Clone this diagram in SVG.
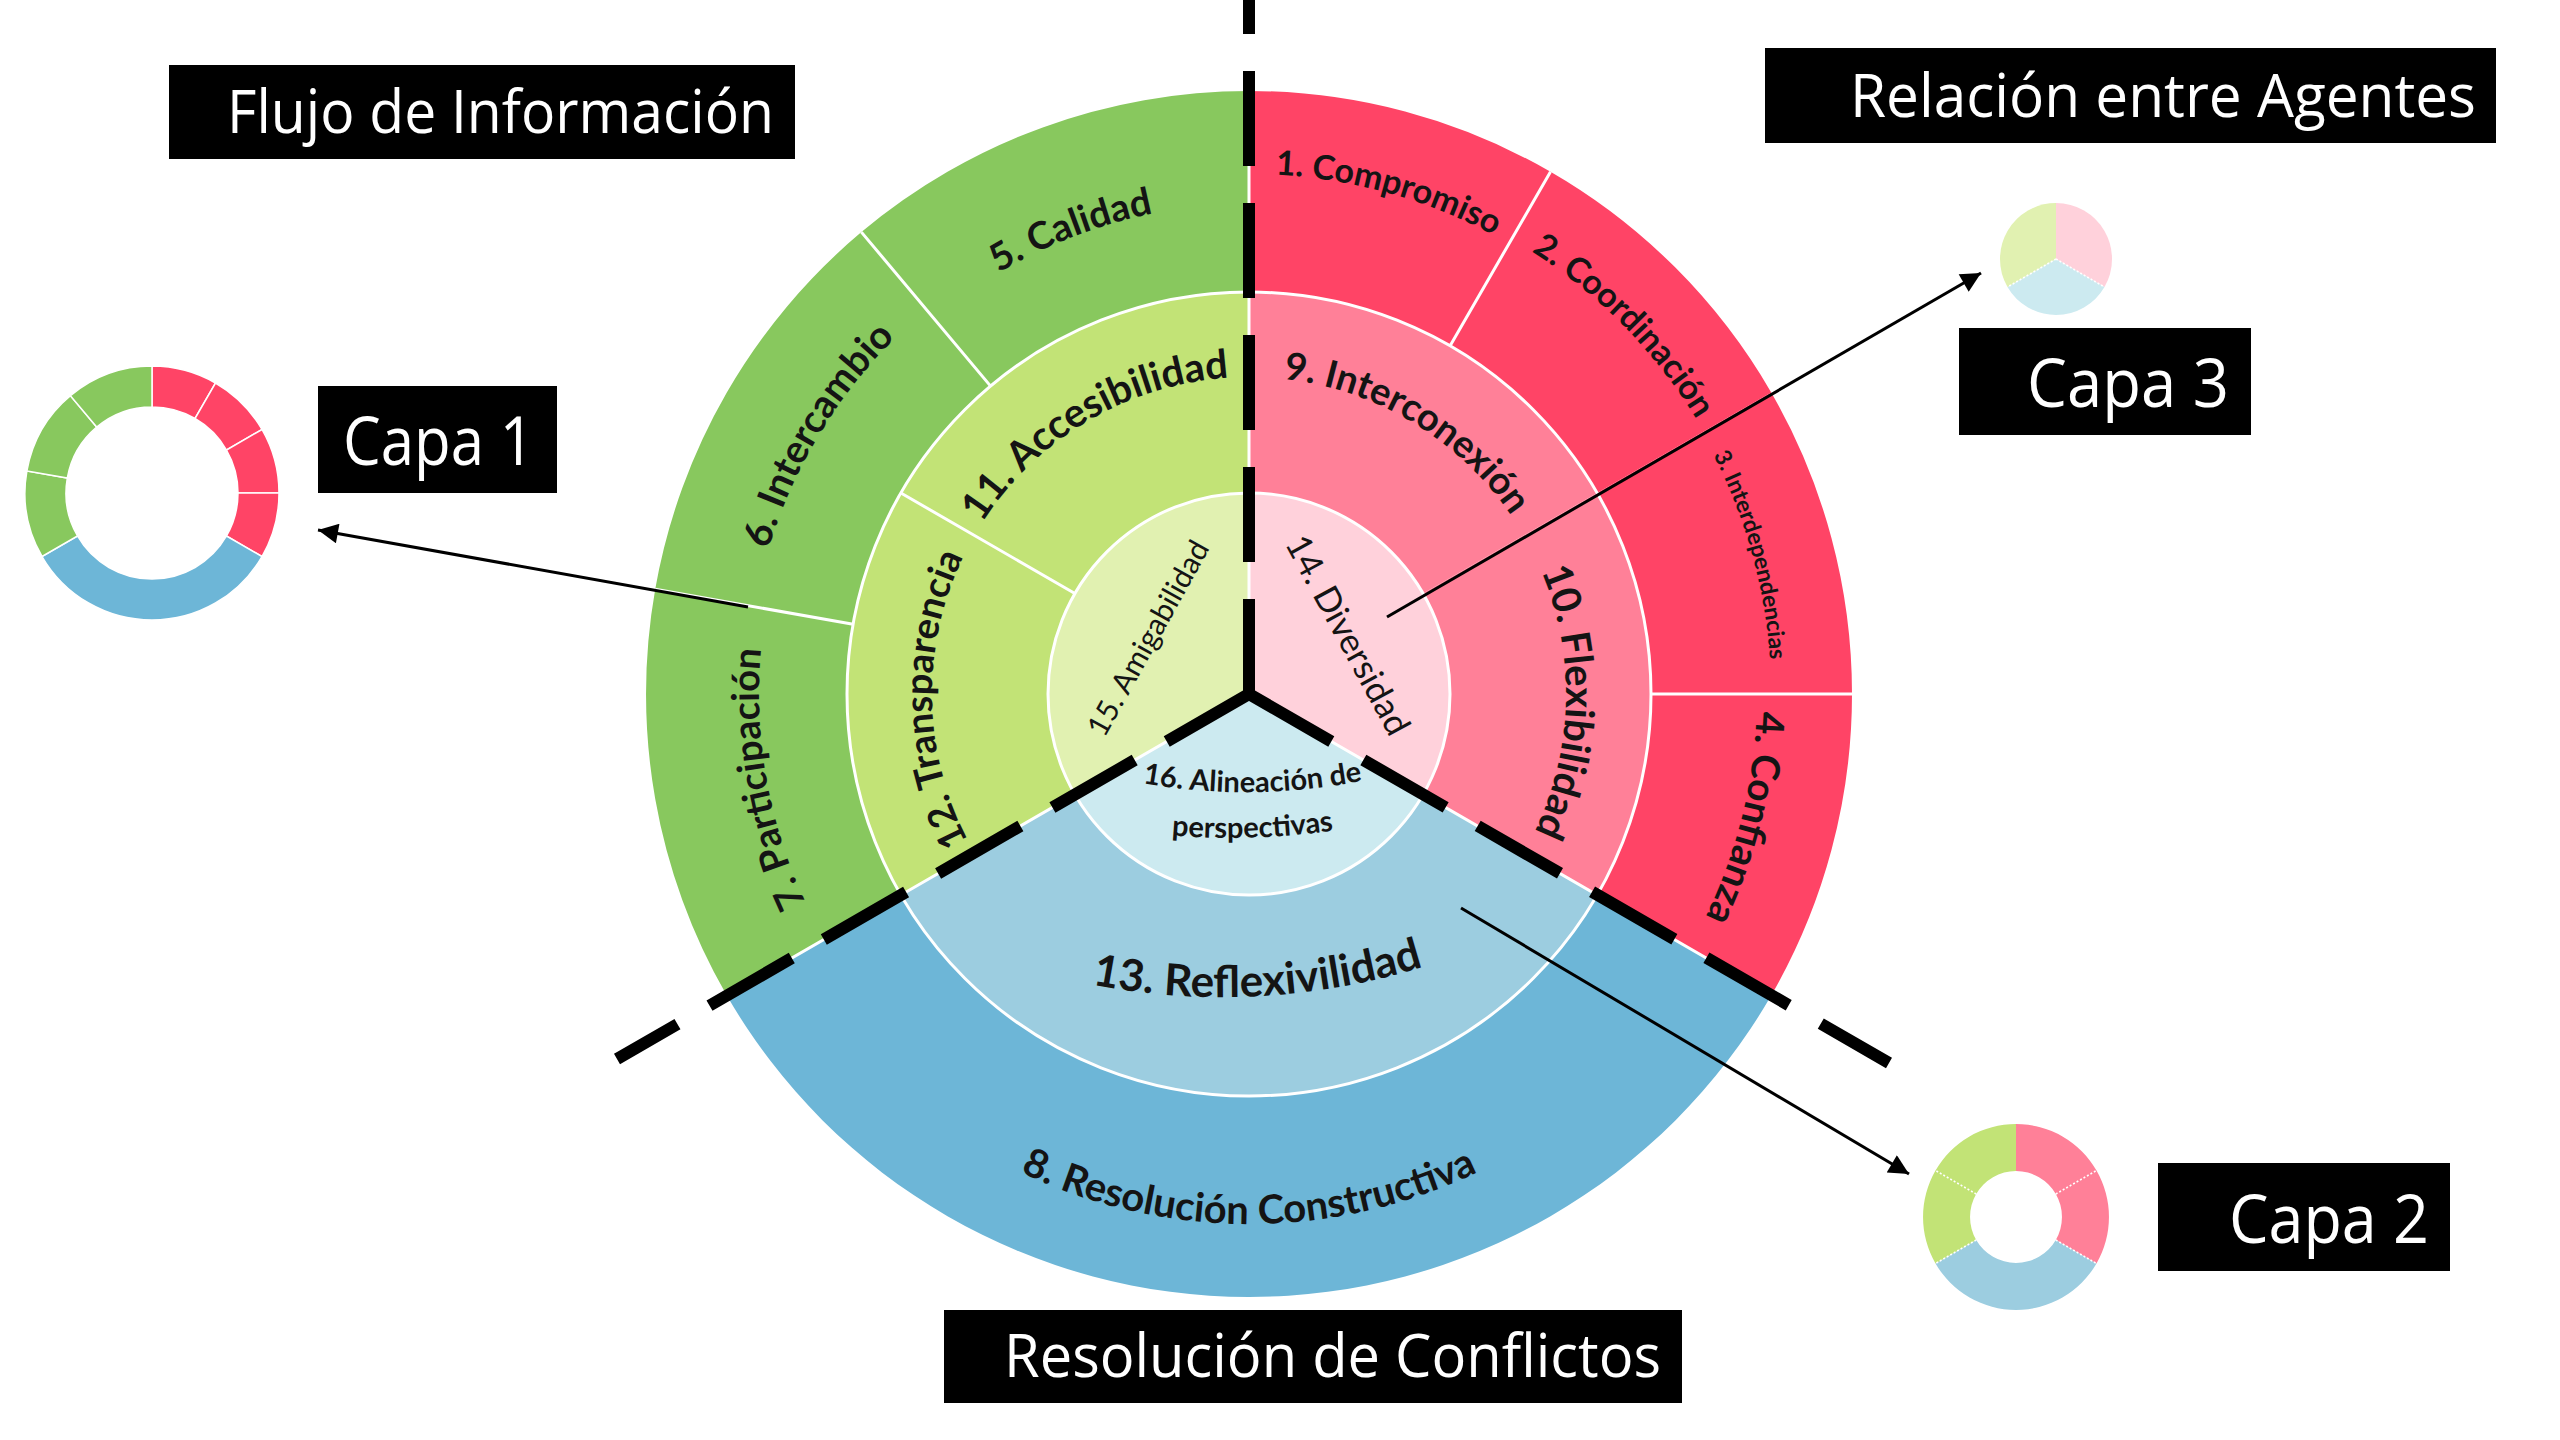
<svg xmlns="http://www.w3.org/2000/svg" xmlns:xlink="http://www.w3.org/1999/xlink" width="2560" height="1440" viewBox="0 0 2560 1440">
<style>
.ro{fill:#FF4466}.rm{fill:#FF8098}.ri{fill:#FFD1DB}
.go{fill:#88C85E}.gm{fill:#C2E376}.gi{fill:#E1F1B1}
.bo{fill:#6DB6D7}.bm{fill:#9CCDE0}.bi{fill:#CCEAF0}
.sep{stroke:#fff;stroke-width:3;fill:none}
.thin{stroke:#fff;stroke-width:1.5}
.dot{stroke:#fff;stroke-width:1.5;stroke-dasharray:2 2;fill:none}
.lbl{font-family:Lato,"Open Sans",sans-serif;font-weight:700;fill:#141414}
.reg{font-weight:400}
.box{fill:#000}
.boxt{font-family:"Open Sans","Noto Sans",sans-serif;fill:#fff}
.dash{stroke:#000;stroke-width:12;stroke-dasharray:95 37;fill:none}
.conn{stroke:#000;stroke-width:3;fill:none;marker-end:url(#ah)}
</style>
<defs>
<marker id="ah" viewBox="0 0 10 10" refX="10" refY="5" markerUnits="userSpaceOnUse" markerWidth="26" markerHeight="20" orient="auto">
<path d="M0,0 L10,5 L0,10 z" fill="#000"/>
</marker>
<path id="a520" d="M798.7,434 A520,520 0 0 1 1699.3,434"/>
<path id="a525" d="M794.3,431.5 A525,525 0 0 1 1703.7,431.5"/>
<path id="a522" d="M796.9,433 A522,522 0 0 1 1701.1,433"/>
<path id="a508" d="M809.1,440 A508,508 0 0 1 1688.9,440"/>
<path id="a502" d="M814.3,443 A502,502 0 0 1 1683.7,443"/>
<path id="a490" d="M824.7,449 A490,490 0 0 1 1673.3,449"/>
<path id="a317" d="M974.5,535.5 A317,317 0 0 1 1523.5,535.5"/>
<path id="b530" d="M790,959 A530,530 0 0 0 1708,959"/>
<path id="p13" d="M1080,982 A680,680 0 0 0 1435,963"/>
<path id="p16a" d="M1125,780 A600,600 0 0 0 1380,777"/>
<path id="p16b" d="M1140,832 A700,700 0 0 0 1365,825"/>
</defs>
<rect width="2560" height="1440" fill="#fff"/>

<g id="n1"><path class="ro" d="M1249,91 A603,603 0 0 1 1550.5,171.8 L1450,345.9 A402,402 0 0 0 1249,292 Z"/>
<text class="lbl" font-size="34" transform="rotate(15.5 1249 694)"><textPath href="#a520" startOffset="50%" text-anchor="middle">1. Compromiso</textPath></text></g>
<g id="n2"><path class="ro" d="M1550.5,171.8 A603,603 0 0 1 1771.2,392.5 L1597.1,493 A402,402 0 0 0 1450,345.9 Z"/>
<text class="lbl" font-size="34" transform="rotate(45.5 1249 694)"><textPath href="#a525" startOffset="50%" text-anchor="middle">2. Coordinación</textPath></text></g>
<g id="n3"><path class="ro" d="M1771.2,392.5 A603,603 0 0 1 1852,694 L1651,694 A402,402 0 0 0 1597.1,493 Z"/>
<text class="lbl" font-size="23" transform="rotate(74.5 1249 694)"><textPath href="#a522" startOffset="50%" text-anchor="middle">3. Interdependencias</textPath></text></g>
<g id="n4"><path class="ro" d="M1852,694 A603,603 0 0 1 1771.2,995.5 L1597.1,895 A402,402 0 0 0 1651,694 Z"/>
<text class="lbl" font-size="39" transform="rotate(104 1249 694)"><textPath href="#a508" startOffset="50%" text-anchor="middle">4. Confianza</textPath></text></g>
<g id="n5"><path class="go" d="M861.4,232.1 A603,603 0 0 1 1249,91 L1249,292 A402,402 0 0 0 990.6,386.1 Z"/>
<text class="lbl" font-size="38" transform="rotate(-21 1249 694)"><textPath href="#a490" startOffset="50%" text-anchor="middle">5. Calidad</textPath></text></g>
<g id="n6"><path class="go" d="M655.2,589.3 A603,603 0 0 1 861.4,232.1 L990.6,386.1 A402,402 0 0 0 853.1,624.2 Z"/>
<text class="lbl" font-size="39" transform="rotate(-59 1249 694)"><textPath href="#a502" startOffset="50%" text-anchor="middle">6. Intercambio</textPath></text></g>
<g id="n7"><path class="go" d="M726.8,995.5 A603,603 0 0 1 655.2,589.3 L853.1,624.2 A402,402 0 0 0 900.9,895 Z"/>
<text class="lbl" font-size="38" transform="rotate(-100 1249 694)"><textPath href="#a490" startOffset="50%" text-anchor="middle">7. Participación</textPath></text></g>
<g id="n8"><path class="bo" d="M1771.2,995.5 A603,603 0 0 1 726.8,995.5 L900.9,895 A402,402 0 0 0 1597.1,895 Z"/>
<text class="lbl" font-size="40" font-weight="600"><textPath href="#b530" startOffset="50%" text-anchor="middle">8. Resolución Constructiva</textPath></text></g>

<g id="n9"><path class="rm" d="M1249,292 A402,402 0 0 1 1597.1,493 L1423.1,593.5 A201,201 0 0 0 1249,493 Z"/>
<text class="lbl" font-size="38" transform="rotate(31 1249 694)"><textPath href="#a317" startOffset="50%" text-anchor="middle">9. Interconexión</textPath></text></g>
<g id="n10"><path class="rm" d="M1597.1,493 A402,402 0 0 1 1597.1,895 L1423.1,794.5 A201,201 0 0 0 1423.1,593.5 Z"/>
<text class="lbl" font-size="40" transform="rotate(91.5 1249 694)"><textPath href="#a317" startOffset="50%" text-anchor="middle">10. Flexibilidad</textPath></text></g>
<g id="n11"><path class="gm" d="M900.9,493 A402,402 0 0 1 1249,292 L1249,493 A201,201 0 0 0 1074.9,593.5 Z"/>
<text class="lbl" font-size="40" transform="rotate(-30.5 1249 694)"><textPath href="#a317" startOffset="50%" text-anchor="middle">11. Accesibilidad</textPath></text></g>
<g id="n12"><path class="gm" d="M900.9,895 A402,402 0 0 1 900.9,493 L1074.9,593.5 A201,201 0 0 0 1074.9,794.5 Z"/>
<text class="lbl" font-size="38" transform="rotate(-91 1249 694)"><textPath href="#a317" startOffset="50%" text-anchor="middle">12. Transparencia</textPath></text></g>
<g id="n13"><path class="bm" d="M1597.1,895 A402,402 0 0 1 900.9,895 L1074.9,794.5 A201,201 0 0 0 1423.1,794.5 Z"/>
<text class="lbl" font-size="44"><textPath href="#p13" startOffset="50%" text-anchor="middle">13. Reflexivilidad</textPath></text></g>

<g id="n14"><path class="ri" d="M1249,694 L1249,493 A201,201 0 0 1 1423.1,794.5 Z"/>
<text class="lbl reg" font-size="35" text-anchor="middle" dy="0.35em" transform="translate(1348 635) rotate(61.5)">14. Diversidad</text></g>
<g id="n15"><path class="gi" d="M1249,694 L1074.9,794.5 A201,201 0 0 1 1249,493 Z"/>
<text class="lbl reg" font-size="30" text-anchor="middle" dy="0.35em" transform="translate(1148 638) rotate(-61)">15. Amigabilidad</text></g>
<g id="n16"><path class="bi" d="M1249,694 L1423.1,794.5 A201,201 0 0 1 1074.9,794.5 Z"/>
<text class="lbl" font-size="29" font-weight="600"><textPath href="#p16a" startOffset="50%" text-anchor="middle">16. Alineación de</textPath></text>
<text class="lbl" font-size="29" font-weight="600"><textPath href="#p16b" startOffset="50%" text-anchor="middle">perspectivas</textPath></text></g>

<g id="separators">
<circle class="sep" cx="1249" cy="694" r="402"/>
<circle class="sep" cx="1249" cy="694" r="201"/>
<path class="sep" d="M1450,345.9 L1550.5,171.8 M1651,694 L1852,694 M853.1,624.2 L655.2,589.3 M990.6,386.1 L861.4,232.1 M1074.9,593.5 L900.9,493 M1249,694 L1249,91 M1249,694 L1771.2,995.5 M1249,694 L726.8,995.5"/>
</g>

<g id="dividers">
<path class="dash" d="M1249,694 L1249,-10"/>
<path class="dash" d="M1249,694 L617,1059"/>
<path class="dash" d="M1249,694 L1889,1063"/>
</g>

<g id="title-flujo"><rect class="box" x="169" y="65" width="626" height="94"/>
<text class="boxt" x="227" y="133" font-size="60" textLength="547" lengthAdjust="spacingAndGlyphs">Flujo de Información</text></g>
<g id="title-relacion"><rect class="box" x="1765" y="48" width="731" height="95"/>
<text class="boxt" x="1850" y="117" font-size="60" textLength="626" lengthAdjust="spacingAndGlyphs">Relación entre Agentes</text></g>
<g id="title-resolucion"><rect class="box" x="944" y="1310" width="738" height="93"/>
<text class="boxt" x="1004" y="1377" font-size="60" textLength="657" lengthAdjust="spacingAndGlyphs">Resolución de Conflictos</text></g>

<g id="capa1">
<g class="thin">
<path class="ro" d="M152,366 A127,127 0 0 1 215.5,383 L195,418.5 A86,86 0 0 0 152,407 Z"/>
<path class="ro" d="M215.5,383 A127,127 0 0 1 262,429.5 L226.5,450 A86,86 0 0 0 195,418.5 Z"/>
<path class="ro" d="M262,429.5 A127,127 0 0 1 279,493 L238,493 A86,86 0 0 0 226.5,450 Z"/>
<path class="ro" d="M279,493 A127,127 0 0 1 262,556.5 L226.5,536 A86,86 0 0 0 238,493 Z"/>
<path class="bo" d="M262,556.5 A127,127 0 0 1 42,556.5 L77.5,536 A86,86 0 0 0 226.5,536 Z"/>
<path class="go" d="M42,556.5 A127,127 0 0 1 26.9,470.9 L67.3,478.1 A86,86 0 0 0 77.5,536 Z"/>
<path class="go" d="M26.9,470.9 A127,127 0 0 1 70.4,395.7 L96.7,427.1 A86,86 0 0 0 67.3,478.1 Z"/>
<path class="go" d="M70.4,395.7 A127,127 0 0 1 152,366 L152,407 A86,86 0 0 0 96.7,427.1 Z"/>
</g>
<rect class="box" x="318" y="386" width="239" height="107"/>
<text class="boxt" x="343" y="465" font-size="68" textLength="191" lengthAdjust="spacingAndGlyphs">Capa 1</text>
</g>

<g id="capa2">
<path class="rm" d="M2016,1124 A93,93 0 0 1 2096.5,1263.5 L2055.8,1240 A46,46 0 0 0 2016,1171 Z"/>
<path class="bm" d="M2096.5,1263.5 A93,93 0 0 1 1935.5,1263.5 L1976.2,1240 A46,46 0 0 0 2055.8,1240 Z"/>
<path class="gm" d="M1935.5,1263.5 A93,93 0 0 1 2016,1124 L2016,1171 A46,46 0 0 0 1976.2,1240 Z"/>
<path class="dot" d="M2055.8,1194 L2096.5,1170.5 M2055.8,1240 L2096.5,1263.5 M1976.2,1240 L1935.5,1263.5 M1976.2,1194 L1935.5,1170.5"/>
<rect class="box" x="2158" y="1163" width="292" height="108"/>
<text class="boxt" x="2229" y="1243" font-size="68" textLength="200" lengthAdjust="spacingAndGlyphs">Capa 2</text>
</g>

<g id="capa3">
<path class="ri" d="M2056,259 L2056,203 A56,56 0 0 1 2104.5,287 Z"/>
<path class="bi" d="M2056,259 L2104.5,287 A56,56 0 0 1 2007.5,287 Z"/>
<path class="gi" d="M2056,259 L2007.5,287 A56,56 0 0 1 2056,203 Z"/>
<path class="dot" d="M2056,259 L2104.5,287 M2056,259 L2007.5,287"/>
<rect class="box" x="1959" y="328" width="292" height="107"/>
<text class="boxt" x="2027" y="407" font-size="68" textLength="202" lengthAdjust="spacingAndGlyphs">Capa 3</text>
</g>

<g id="connectors">
<path class="conn" d="M748,607 L318,530"/>
<path class="conn" d="M1461,908 L1909,1174"/>
<path class="conn" d="M1387,617 L1981,273"/>
</g>
</svg>
